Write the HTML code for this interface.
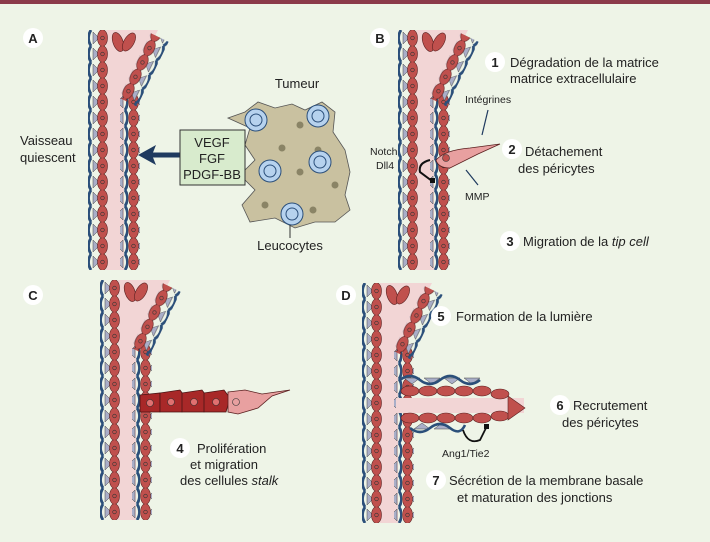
<!DOCTYPE html>
<html><head><meta charset="utf-8"><style>
body{margin:0;background:#eef4e7}
svg{display:block}
text{font-family:"Liberation Sans",sans-serif;fill:#222}
</style></head><body>
<svg width="710" height="542" viewBox="0 0 710 542">
<defs>
<pattern id="wL" patternUnits="userSpaceOnUse" width="20" height="16">
<path d="M3,0 Q-2,8 3,16" stroke="#2b4f7a" stroke-width="2.8" fill="none"/>
<path d="M5,2 L11,8 L5,14 Z" fill="#a9aec8" stroke="#444" stroke-width="0.5"/>
<ellipse cx="14.5" cy="8" rx="5" ry="8.3" fill="#c0504d" stroke="#5a2020" stroke-width="0.6"/>
<circle cx="14.5" cy="8" r="1.8" fill="none" stroke="#333" stroke-width="0.6"/>
</pattern>
<pattern id="wR" patternUnits="userSpaceOnUse" width="20" height="16">
<path d="M17,0 Q22,8 17,16" stroke="#2b4f7a" stroke-width="2.8" fill="none"/>
<path d="M15,2 L9,8 L15,14 Z" fill="#a9aec8" stroke="#444" stroke-width="0.5"/>
<ellipse cx="5.5" cy="8" rx="5" ry="8.3" fill="#c0504d" stroke="#5a2020" stroke-width="0.6"/>
<circle cx="5.5" cy="8" r="1.8" fill="none" stroke="#333" stroke-width="0.6"/>
</pattern>
<g id="ves">
<path d="M18,0 L70,0 L36,66 L36,240 L18,240 Z" fill="#f2d5d5"/>
<rect x="0" y="0" width="20" height="240" fill="url(#wL)"/>
<rect x="32" y="64" width="20" height="176" fill="url(#wR)"/>
<g transform="translate(32,66) rotate(26)"><rect x="0" y="-70" width="20" height="72" fill="url(#wR)"/></g>
<ellipse cx="30" cy="12" rx="5" ry="10" fill="#c0504d" stroke="#5a2020" stroke-width="0.6" transform="rotate(-20 30 12)"/>
<ellipse cx="41" cy="12" rx="5" ry="10" fill="#c0504d" stroke="#5a2020" stroke-width="0.6" transform="rotate(30 41 12)"/>
</g>
</defs>
<rect x="0" y="0" width="710" height="4" fill="#8b3a4a"/>

<!-- A -->
<circle cx="33" cy="38" r="10" fill="#fff"/><text x="33" y="43" font-size="13" font-weight="bold" text-anchor="middle">A</text>
<use href="#ves" x="88" y="30"/>
<text x="20" y="145" font-size="13">Vaisseau</text>
<text x="20" y="162" font-size="13">quiescent</text>
<path d="M188,155 L152,155" stroke="#1f3a5f" stroke-width="5"/>
<path d="M138,155 L156,145 L152,155 L156,165 Z" fill="#1f3a5f"/>
<g fill="#c9c1a0" stroke="#555" stroke-width="0.8">
<path d="M228,118 L245,112 L258,102 L275,108 L292,104 L305,110 L322,102 L335,112 L333,132 L345,150 L350,172 L345,195 L350,210 L335,222 L315,222 L295,228 L275,218 L250,222 L242,205 L255,190 L240,175 L255,160 L245,145 L250,128 Z"/>
</g>
<g fill="#8a8466"><circle cx="300" cy="125" r="3.5"/><circle cx="282" cy="148" r="3.5"/><circle cx="318" cy="150" r="3.5"/><circle cx="300" cy="172" r="3.5"/><circle cx="335" cy="185" r="3.5"/><circle cx="313" cy="210" r="3.5"/><circle cx="265" cy="205" r="3.5"/></g>
<g fill="#b6d2ee" stroke="#2b4f7a" stroke-width="1">
<circle cx="256" cy="120" r="11"/><circle cx="318" cy="116" r="11"/><circle cx="320" cy="162" r="11"/><circle cx="270" cy="171" r="11"/><circle cx="292" cy="214" r="11"/>
</g>
<g fill="none" stroke="#2b4f7a" stroke-width="1"><circle cx="256" cy="120" r="6"/><circle cx="318" cy="116" r="6"/><circle cx="320" cy="162" r="6"/><circle cx="270" cy="171" r="6"/><circle cx="292" cy="214" r="6"/></g>
<rect x="180" y="130" width="65" height="55" fill="#d8ebcd" stroke="#333" stroke-width="1"/>
<text x="212" y="147" font-size="13" text-anchor="middle">VEGF</text>
<text x="212" y="163" font-size="13" text-anchor="middle">FGF</text>
<text x="212" y="179" font-size="13" text-anchor="middle">PDGF-BB</text>
<text x="297" y="88" font-size="13" text-anchor="middle">Tumeur</text>
<path d="M290,225 L290,238" stroke="#333"/>
<text x="290" y="250" font-size="13" text-anchor="middle">Leucocytes</text>

<!-- B -->
<circle cx="380" cy="38" r="10" fill="#fff"/><text x="380" y="43" font-size="13" font-weight="bold" text-anchor="middle">B</text>
<use href="#ves" x="398" y="30"/>
<circle cx="495" cy="62" r="10" fill="#fff"/><text x="495" y="67" font-size="13" font-weight="bold" text-anchor="middle">1</text>
<text x="510" y="67" font-size="13">Dégradation de la matrice</text>
<text x="510" y="83" font-size="13">matrice extracellulaire</text>
<text x="465" y="103" font-size="10.5">Intégrines</text>
<path d="M488,110 L482,135" stroke="#1f3a5f" stroke-width="1.2"/>
<path d="M436,160 Q445,150 470,148 L500,144 L478,154 L450,168 Q438,168 436,160 Z" fill="#e8a0a0" stroke="#5a2020" stroke-width="0.8"/>
<circle cx="446" cy="158" r="3.5" fill="#c0504d" stroke="#333" stroke-width="0.6"/>
<circle cx="512" cy="149" r="10" fill="#fff"/><text x="512" y="154" font-size="13" font-weight="bold" text-anchor="middle">2</text>
<text x="525" y="156" font-size="13">Détachement</text>
<text x="518" y="173" font-size="13">des péricytes</text>
<text x="370" y="155" font-size="10.5">Notch</text>
<text x="376" y="169" font-size="10.5">Dll4</text>
<path d="M430,160 Q418,163 420,172 L432,181" stroke="#111" stroke-width="2" fill="none"/><rect x="430" y="178" width="5" height="5" fill="#111"/>
<path d="M466,170 L478,185" stroke="#1f3a5f" stroke-width="1.2"/>
<text x="465" y="200" font-size="10.5">MMP</text>
<circle cx="510" cy="241" r="10" fill="#fff"/><text x="510" y="246" font-size="13" font-weight="bold" text-anchor="middle">3</text>
<text x="523" y="246" font-size="13">Migration de la <tspan font-style="italic">tip cell</tspan></text>

<!-- C -->
<circle cx="33" cy="295" r="10" fill="#fff"/><text x="33" y="300" font-size="13" font-weight="bold" text-anchor="middle">C</text>
<use href="#ves" x="100" y="280" />
<g fill="#a82828" stroke="#4a1515" stroke-width="0.8">
<path d="M140,395 L160,393 L160,412 L140,412 Z"/>
<path d="M160,393 L180,390 L186,398 L182,412 L160,412 Z"/>
<path d="M182,393 L202,390 L208,398 L204,412 L182,412 Z"/>
<path d="M204,393 L224,390 L230,398 L226,412 L204,412 Z"/>
</g>
<g fill="#e07070" stroke="#333" stroke-width="0.6"><circle cx="150" cy="403" r="3.5"/><circle cx="171" cy="402" r="3.5"/><circle cx="194" cy="402" r="3.5"/><circle cx="216" cy="402" r="3.5"/></g>
<path d="M228,392 L245,390 L262,394 L290,390 L272,396 L258,408 L238,414 L228,412 Z" fill="#e8a0a0" stroke="#5a2020" stroke-width="0.8"/>
<circle cx="236" cy="402" r="3.5" fill="#e8a0a0" stroke="#333" stroke-width="0.6"/>
<circle cx="180" cy="448" r="10" fill="#fff"/><text x="180" y="453" font-size="13" font-weight="bold" text-anchor="middle">4</text>
<text x="197" y="453" font-size="13">Prolifération</text>
<text x="190" y="469" font-size="13">et migration</text>
<text x="180" y="485" font-size="13">des cellules <tspan font-style="italic">stalk</tspan></text>

<!-- D -->
<circle cx="346" cy="295" r="10" fill="#fff"/><text x="346" y="300" font-size="13" font-weight="bold" text-anchor="middle">D</text>
<use href="#ves" x="362" y="283"/>
<rect x="396" y="398" width="128" height="15" fill="#f2d5d5"/>
<g fill="#a9aec8" stroke="#444" stroke-width="0.5">
<path d="M404,378 L412,384 L420,378 Z"/><path d="M424,378 L432,384 L440,378 Z"/><path d="M444,378 L452,384 L460,378 Z"/><path d="M464,378 L472,384 L480,378 Z"/>
<path d="M414,429 L422,423 L430,429 Z"/><path d="M434,429 L442,423 L450,429 Z"/>
</g>
<g fill="#c0504d" stroke="#5a2020" stroke-width="0.6">
<ellipse cx="410" cy="391" rx="9" ry="5"/><ellipse cx="428" cy="391" rx="9" ry="5"/><ellipse cx="446" cy="391" rx="9" ry="5"/><ellipse cx="464" cy="391" rx="9" ry="5"/><ellipse cx="482" cy="391" rx="9" ry="5"/><ellipse cx="500" cy="394" rx="9" ry="5"/>
<ellipse cx="410" cy="418" rx="9" ry="5"/><ellipse cx="428" cy="418" rx="9" ry="5"/><ellipse cx="446" cy="418" rx="9" ry="5"/><ellipse cx="464" cy="418" rx="9" ry="5"/><ellipse cx="482" cy="418" rx="9" ry="5"/><ellipse cx="500" cy="416" rx="9" ry="5"/>
<path d="M508,396 L525,408 L508,420 Z"/>
</g>
<path d="M400,380 Q410,372 420,380 T440,380 T460,380 T480,380" stroke="#2b4f7a" stroke-width="2.6" fill="none"/>
<path d="M410,428 Q420,436 430,428 T450,428 T465,425" stroke="#2b4f7a" stroke-width="2.6" fill="none"/>
<path d="M463,430 Q468,445 480,440 L486,428" stroke="#111" stroke-width="1.8" fill="none"/><rect x="484" y="424" width="5" height="5" fill="#111"/>
<text x="442" y="457" font-size="10.5">Ang1/Tie2</text>
<circle cx="441" cy="316" r="10" fill="#fff"/><text x="441" y="321" font-size="13" font-weight="bold" text-anchor="middle">5</text>
<text x="456" y="321" font-size="13">Formation de la lumière</text>
<circle cx="560" cy="405" r="10" fill="#fff"/><text x="560" y="410" font-size="13" font-weight="bold" text-anchor="middle">6</text>
<text x="573" y="410" font-size="13">Recrutement</text>
<text x="562" y="427" font-size="13">des péricytes</text>
<circle cx="436" cy="480" r="10" fill="#fff"/><text x="436" y="485" font-size="13" font-weight="bold" text-anchor="middle">7</text>
<text x="449" y="485" font-size="13">Sécrétion de la membrane basale</text>
<text x="457" y="502" font-size="13">et maturation des jonctions</text>
</svg>
</body></html>
